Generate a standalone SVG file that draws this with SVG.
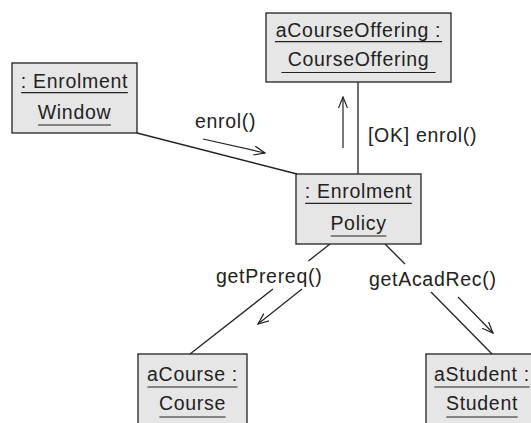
<svg xmlns="http://www.w3.org/2000/svg" width="531" height="423" viewBox="0 0 531 423">
<style>
.box{fill:#e6e6e6;stroke:#222;stroke-width:1.3}
.t{font-family:"Liberation Sans",Arial,sans-serif;font-size:19.5px;letter-spacing:0.7px;fill:#222}
.c{text-anchor:middle}
.u{stroke:#222;stroke-width:1.2}
.ln{stroke:#222;stroke-width:1.3;fill:none}
.ar{stroke:#222;stroke-width:1.2;fill:none;marker-end:url(#open)}
</style>
<defs>
<marker id="open" markerUnits="userSpaceOnUse" viewBox="0 0 12 10" refX="11" refY="5" markerWidth="12" markerHeight="10" orient="auto">
<path d="M0,0.5 L11,5 L0,9.5" fill="none" stroke="#222" stroke-width="1.2"/>
</marker>
</defs>
<rect width="531" height="423" fill="#fff"/>
<g id="connectors">
<line class="ln" x1="137" y1="133" x2="297" y2="174"/>
<line class="ln" x1="358" y1="82" x2="358" y2="174"/>
<line class="ln" x1="330" y1="244" x2="308.4" y2="261"/>
<line class="ln" x1="273" y1="289" x2="190" y2="354"/>
<line class="ln" x1="385" y1="244" x2="405" y2="264"/>
<line class="ln" x1="431" y1="292" x2="493" y2="355"/>
<line class="ar" x1="203" y1="139" x2="265" y2="153"/>
<line class="ar" x1="343" y1="148" x2="343" y2="97"/>
<line class="ar" x1="302" y1="289" x2="258" y2="324"/>
<line class="ar" x1="458" y1="297" x2="493" y2="333"/>
<text class="t" x="195" y="128">enrol()</text>
<text class="t" x="368" y="142">[OK] enrol()</text>
<text class="t" x="216" y="283">getPrereq()</text>
<text class="t" x="369" y="286">getAcadRec()</text>
</g>
<g id="enrolmentWindow">
<rect class="box" x="12" y="63" width="125" height="70"/>
<text class="t c" x="74.5" y="87.5">: Enrolment</text>
<line class="u" x1="21.2" y1="92.7" x2="127.8" y2="92.7"/>
<text class="t c" x="74.5" y="119">Window</text>
<line class="u" x1="38.1" y1="125" x2="110.9" y2="125"/>
</g>
<g id="courseOffering">
<rect class="box" x="266" y="13" width="185" height="69"/>
<text class="t c" x="358.5" y="36.5">aCourseOffering :</text>
<line class="u" x1="274.9" y1="41.7" x2="442.1" y2="41.7"/>
<text class="t c" x="358.5" y="66">CourseOffering</text>
<line class="u" x1="281.4" y1="72.5" x2="435.6" y2="72.5"/>
</g>
<g id="enrolmentPolicy">
<rect class="box" x="296" y="174" width="125" height="70"/>
<text class="t c" x="358.5" y="197.5">: Enrolment</text>
<line class="u" x1="305.2" y1="203.3" x2="411.8" y2="203.3"/>
<text class="t c" x="358.5" y="230">Policy</text>
<line class="u" x1="330.8" y1="236" x2="386.3" y2="236"/>
</g>
<g id="aCourse">
<rect class="box" x="138" y="354" width="109" height="80"/>
<text class="t c" x="192.5" y="381">aCourse :</text>
<line class="u" x1="147.5" y1="387" x2="237.5" y2="387"/>
<text class="t c" x="192.5" y="410">Course</text>
<line class="u" x1="159.4" y1="417" x2="225.6" y2="417"/>
</g>
<g id="aStudent">
<rect class="box" x="426" y="354" width="117" height="80"/>
<text class="t c" x="482" y="381">aStudent :</text>
<line class="u" x1="434.4" y1="387" x2="529.6" y2="387"/>
<text class="t c" x="482" y="410">Student</text>
<line class="u" x1="446.3" y1="417" x2="517.7" y2="417"/>
</g>
</svg>
